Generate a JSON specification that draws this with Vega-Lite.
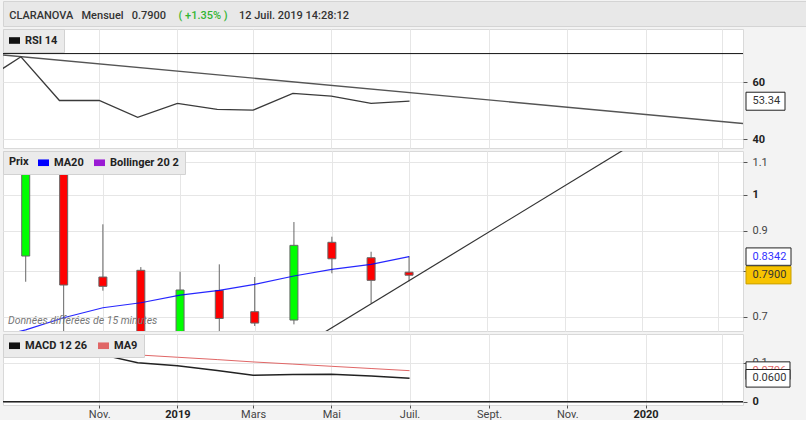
{
  "$schema": "https://vega.github.io/schema/vega-lite/v6.json",
  "background": "#f3f3f3",
  "padding": {"left": 1, "top": 0, "right": 0, "bottom": 0},
  "bounds": "flush",
  "spacing": 3,
  "datasets": {
    "rsi": [
      {"date": "2018-08-01", "v": 59.9, "serie": "RSI 14"},
      {"date": "2018-09-01", "v": 68.9, "serie": "RSI 14"},
      {"date": "2018-10-01", "v": 53.6, "serie": "RSI 14"},
      {"date": "2018-11-01", "v": 53.6, "serie": "RSI 14"},
      {"date": "2018-12-01", "v": 47.7, "serie": "RSI 14"},
      {"date": "2019-01-01", "v": 52.6, "serie": "RSI 14"},
      {"date": "2019-02-01", "v": 50.5, "serie": "RSI 14"},
      {"date": "2019-03-01", "v": 50.2, "serie": "RSI 14"},
      {"date": "2019-04-01", "v": 56.1, "serie": "RSI 14"},
      {"date": "2019-05-01", "v": 55.1, "serie": "RSI 14"},
      {"date": "2019-06-01", "v": 52.6, "serie": "RSI 14"},
      {"date": "2019-07-01", "v": 53.34, "serie": "RSI 14"}
    ],
    "rsiTrend": [
      {"date": "2018-08-18", "v": 69.5},
      {"date": "2020-03-17", "v": 45.55}
    ],
    "rsiLast": [{"k": "RSI 14", "v": 53.34}],
    "prix": [
      {"date": "2018-09-01", "open": 0.8356, "high": 1.25, "low": 0.775, "close": 1.2},
      {"date": "2018-10-01", "open": 1.2, "high": 1.24, "low": 0.64, "close": 0.7676},
      {"date": "2018-11-01", "open": 0.7858, "high": 0.917, "low": 0.755, "close": 0.7647},
      {"date": "2018-12-01", "open": 0.8014, "high": 0.809, "low": 0.63, "close": 0.655},
      {"date": "2019-01-01", "open": 0.655, "high": 0.798, "low": 0.63, "close": 0.7565},
      {"date": "2019-02-01", "open": 0.7555, "high": 0.8155, "low": 0.66, "close": 0.696},
      {"date": "2019-03-01", "open": 0.7099, "high": 0.7858, "low": 0.6808, "close": 0.6867},
      {"date": "2019-04-01", "open": 0.6928, "high": 0.9231, "low": 0.6841, "close": 0.8622},
      {"date": "2019-05-01", "open": 0.8699, "high": 0.8843, "low": 0.7944, "close": 0.829},
      {"date": "2019-06-01", "open": 0.8315, "high": 0.8462, "low": 0.7276, "close": 0.7782},
      {"date": "2019-07-01", "open": 0.797, "high": 0.8356, "low": 0.776, "close": 0.79}
    ],
    "ma20": [
      {"date": "2018-08-01", "v": 0.655, "serie": "MA20"},
      {"date": "2018-09-01", "v": 0.673, "serie": "MA20"},
      {"date": "2018-10-01", "v": 0.6975, "serie": "MA20"},
      {"date": "2018-11-01", "v": 0.7182, "serie": "MA20"},
      {"date": "2018-12-01", "v": 0.7288, "serie": "MA20"},
      {"date": "2019-01-01", "v": 0.7454, "serie": "MA20"},
      {"date": "2019-02-01", "v": 0.7558, "serie": "MA20"},
      {"date": "2019-03-01", "v": 0.7692, "serie": "MA20"},
      {"date": "2019-04-01", "v": 0.7881, "serie": "MA20"},
      {"date": "2019-05-01", "v": 0.8037, "serie": "MA20"},
      {"date": "2019-06-01", "v": 0.8156, "serie": "MA20"},
      {"date": "2019-07-01", "v": 0.8342, "serie": "MA20"}
    ],
    "prixTrend": [
      {"date": "2019-04-08", "v": 0.6431},
      {"date": "2020-01-06", "v": 1.1915}
    ],
    "prixLast": [
      {"k": "MA20", "v": 0.8342},
      {"k": "Prix", "v": 0.79}
    ],
    "note": [
      {"date": "2018-08-18", "v": 0.6907, "t": "Données différées de 15 minutes"}
    ],
    "macd": [
      {"date": "2018-08-01", "v": 0.165, "serie": "MACD 12 26"},
      {"date": "2018-09-01", "v": 0.162, "serie": "MACD 12 26"},
      {"date": "2018-10-01", "v": 0.145, "serie": "MACD 12 26"},
      {"date": "2018-11-01", "v": 0.122, "serie": "MACD 12 26"},
      {"date": "2018-12-01", "v": 0.1, "serie": "MACD 12 26"},
      {"date": "2019-01-01", "v": 0.0923, "serie": "MACD 12 26"},
      {"date": "2019-02-01", "v": 0.08, "serie": "MACD 12 26"},
      {"date": "2019-03-01", "v": 0.0677, "serie": "MACD 12 26"},
      {"date": "2019-04-01", "v": 0.0697, "serie": "MACD 12 26"},
      {"date": "2019-05-01", "v": 0.0703, "serie": "MACD 12 26"},
      {"date": "2019-06-01", "v": 0.0659, "serie": "MACD 12 26"},
      {"date": "2019-07-01", "v": 0.06, "serie": "MACD 12 26"},
      {"date": "2018-08-01", "v": 0.14, "serie": "MA9"},
      {"date": "2018-09-01", "v": 0.138, "serie": "MA9"},
      {"date": "2018-10-01", "v": 0.132, "serie": "MA9"},
      {"date": "2018-11-01", "v": 0.126, "serie": "MA9"},
      {"date": "2018-12-01", "v": 0.12, "serie": "MA9"},
      {"date": "2019-01-01", "v": 0.114, "serie": "MA9"},
      {"date": "2019-02-01", "v": 0.108, "serie": "MA9"},
      {"date": "2019-03-01", "v": 0.102, "serie": "MA9"},
      {"date": "2019-04-01", "v": 0.0964, "serie": "MA9"},
      {"date": "2019-05-01", "v": 0.0908, "serie": "MA9"},
      {"date": "2019-06-01", "v": 0.0851, "serie": "MA9"},
      {"date": "2019-07-01", "v": 0.0796, "serie": "MA9"}
    ],
    "macdLast": [
      {"k": "MA9", "v": 0.0796},
      {"k": "MACD 12 26", "v": 0.06}
    ]
  },
  "vconcat": [
    {
      "width": 805,
      "height": 25,
      "view": {"fill": "#e8e8e8", "stroke": "#d4d4d4"},
      "data": {"values": [{"t": ""}]},
      "mark": {"type": "text"},
      "encoding": {"text": {"field": "t"}},
      "title": {
        "text": "CLARANOVA\u00a0\u00a0\u00a0Mensuel\u00a0\u00a0\u00a00.7900",
        "anchor": "start",
        "frame": "group",
        "offset": -20,
        "dx": 6.3,
        "fontSize": 11,
        "fontWeight": 500,
        "color": "#333333"
      }
    },
    {
      "width": 740,
      "height": 119,
      "title": {
        "text": "( +1.35% )",
        "anchor": "start",
        "frame": "group",
        "offset": 8,
        "dx": 175.5,
        "fontSize": 11,
        "fontWeight": 500,
        "color": "#33b533"
      },
      "layer": [
        {
          "data": {"name": "rsi"},
          "mark": {"type": "point", "filled": true, "opacity": 0, "clip": true},
          "encoding": {
            "x": {"field": "date", "type": "temporal",
              "scale": {"type": "utc", "domain": [{"year": 2018, "month": 8, "date": 18, "utc": true}, {"year": 2020, "month": 3, "date": 17, "utc": true}]},
              "axis": {"title": null, "labels": false, "ticks": false, "domain": false, "grid": true,
                "values": [{"year": 2018, "month": 11, "date": 1, "utc": true}, {"year": 2019, "month": 1, "date": 1, "utc": true}, {"year": 2019, "month": 3, "date": 1, "utc": true}, {"year": 2019, "month": 5, "date": 1, "utc": true}, {"year": 2019, "month": 7, "date": 1, "utc": true}, {"year": 2019, "month": 9, "date": 1, "utc": true}, {"year": 2019, "month": 11, "date": 1, "utc": true}, {"year": 2020, "month": 1, "date": 1, "utc": true}, {"year": 2020, "month": 3, "date": 1, "utc": true}]}},
            "y": {"field": "v", "type": "quantitative", "scale": {"domain": [36.98, 78.6], "zero": false, "nice": false},
              "axis": {"orient": "right", "title": null, "values": [40, 60], "grid": true, "tickSize": 4, "labelPadding": 5,
                "labelFontWeight": {"condition": {"test": "datum.value % 1 == 0", "value": "bold"}, "value": "normal"},
                "labelColor": "#222222"}},
            "color": {"field": "serie", "type": "nominal", "scale": {"domain": ["RSI 14"], "range": ["#111111"]},
              "legend": {"title": null, "symbolType": "M-1,-0.6H1V0.6H-1Z"}}
          }
        },
        {
          "data": {"values": [{"v": 70}]},
          "mark": {"type": "rule", "color": "#111111", "strokeWidth": 1},
          "encoding": {
            "y": {"field": "v", "type": "quantitative", "scale": {"domain": [36.98, 78.6], "zero": false, "nice": false}}
          }
        },
        {
          "data": {"name": "rsiTrend"},
          "mark": {"type": "line", "clip": true, "color": "#555555", "strokeWidth": 1.3},
          "encoding": {
            "x": {"field": "date", "type": "temporal",
              "scale": {"type": "utc", "domain": [{"year": 2018, "month": 8, "date": 18, "utc": true}, {"year": 2020, "month": 3, "date": 17, "utc": true}]}},
            "y": {"field": "v", "type": "quantitative", "scale": {"domain": [36.98, 78.6], "zero": false, "nice": false}}
          }
        },
        {
          "data": {"name": "rsi"},
          "mark": {"type": "line", "clip": true, "strokeWidth": 1.3, "color": "#3a3a3a"},
          "encoding": {
            "x": {"field": "date", "type": "temporal",
              "scale": {"type": "utc", "domain": [{"year": 2018, "month": 8, "date": 18, "utc": true}, {"year": 2020, "month": 3, "date": 17, "utc": true}]}},
            "y": {"field": "v", "type": "quantitative", "scale": {"domain": [36.98, 78.6], "zero": false, "nice": false}}
          }
        },
        {
          "data": {"name": "rsiLast"},
          "mark": {"type": "point", "x": "width", "shape": "M3,-9H42V9H3Z", "size": 4, "filled": true, "opacity": 1, "fill": "#ffffff", "stroke": "#222222", "strokeWidth": 1},
          "encoding": {
            "y": {"field": "v", "type": "quantitative", "scale": {"domain": [36.98, 78.6], "zero": false, "nice": false}}
          }
        },
        {
          "data": {"name": "rsiLast"},
          "mark": {"type": "text", "x": "width", "dx": 9.5, "align": "left", "baseline": "middle", "fontSize": 11, "color": "#333333"},
          "encoding": {
            "y": {"field": "v", "type": "quantitative", "scale": {"domain": [36.98, 78.6], "zero": false, "nice": false}},
            "text": {"field": "v", "type": "quantitative", "format": ".2f"}
          }
        }
      ]
    },
    {
      "width": 740,
      "height": 180,
      "title": {
        "text": "12 Juil. 2019 14:28:12",
        "anchor": "start",
        "frame": "group",
        "offset": 130,
        "dx": 236,
        "fontSize": 11,
        "fontWeight": 500,
        "color": "#333333"
      },
      "layer": [
        {
          "data": {"name": "ma20"},
          "mark": {"type": "point", "filled": true, "opacity": 0, "clip": true},
          "encoding": {
            "x": {"field": "date", "type": "temporal",
              "scale": {"type": "utc", "domain": [{"year": 2018, "month": 8, "date": 18, "utc": true}, {"year": 2020, "month": 3, "date": 17, "utc": true}]},
              "axis": {"title": null, "labels": false, "ticks": false, "domain": false, "grid": true,
                "values": [{"year": 2018, "month": 11, "date": 1, "utc": true}, {"year": 2019, "month": 1, "date": 1, "utc": true}, {"year": 2019, "month": 3, "date": 1, "utc": true}, {"year": 2019, "month": 5, "date": 1, "utc": true}, {"year": 2019, "month": 7, "date": 1, "utc": true}, {"year": 2019, "month": 9, "date": 1, "utc": true}, {"year": 2019, "month": 11, "date": 1, "utc": true}, {"year": 2020, "month": 1, "date": 1, "utc": true}, {"year": 2020, "month": 3, "date": 1, "utc": true}]}},
            "y": {"field": "v", "type": "quantitative", "scale": {"type": "log", "domain": [0.6709, 1.1366], "zero": false, "nice": false},
              "axis": {"orient": "right", "title": null, "values": [0.7, 0.8, 0.9, 1, 1.1], "grid": true, "tickSize": 4, "labelPadding": 5,
                "labelExpr": "datum.value > 0.79 && datum.value < 0.81 ? '' : format(datum.value, '.1~f')",
                "labelFontWeight": {"condition": {"test": "datum.value % 1 == 0", "value": "bold"}, "value": "normal"},
                "labelColor": {"condition": {"test": "datum.value % 1 == 0", "value": "#222222"}, "value": "#444444"}}},
            "color": {"field": "serie", "type": "nominal", "scale": {"domain": ["MA20", "Bollinger 20 2"], "range": ["#0000ff", "#9a1ad4"]},
              "legend": {"title": "Prix", "titleOrient": "left", "titlePadding": 9, "symbolType": "M-1,-0.6H1V0.6H-1Z"}}
          }
        },
        {
          "data": {"name": "prix"},
          "mark": {"type": "rule", "clip": true, "color": "#666666", "strokeWidth": 1},
          "encoding": {
            "x": {"field": "date", "type": "temporal",
              "scale": {"type": "utc", "domain": [{"year": 2018, "month": 8, "date": 18, "utc": true}, {"year": 2020, "month": 3, "date": 17, "utc": true}]}},
            "y": {"field": "low", "type": "quantitative", "scale": {"type": "log", "domain": [0.6709, 1.1366], "zero": false, "nice": false}},
            "y2": {"field": "high"}
          }
        },
        {
          "data": {"name": "prix"},
          "mark": {"type": "bar", "clip": true, "width": 8, "stroke": "#666666", "strokeWidth": 1},
          "encoding": {
            "x": {"field": "date", "type": "temporal",
              "scale": {"type": "utc", "domain": [{"year": 2018, "month": 8, "date": 18, "utc": true}, {"year": 2020, "month": 3, "date": 17, "utc": true}]}},
            "y": {"field": "open", "type": "quantitative", "scale": {"type": "log", "domain": [0.6709, 1.1366], "zero": false, "nice": false}},
            "y2": {"field": "close"},
            "fill": {"condition": {"test": "datum.close >= datum.open", "value": "#00ff00"}, "value": "#ff0000"}
          }
        },
        {
          "data": {"name": "prixTrend"},
          "mark": {"type": "line", "clip": true, "color": "#333333", "strokeWidth": 1.2},
          "encoding": {
            "x": {"field": "date", "type": "temporal",
              "scale": {"type": "utc", "domain": [{"year": 2018, "month": 8, "date": 18, "utc": true}, {"year": 2020, "month": 3, "date": 17, "utc": true}]}},
            "y": {"field": "v", "type": "quantitative", "scale": {"type": "log", "domain": [0.6709, 1.1366], "zero": false, "nice": false}}
          }
        },
        {
          "data": {"name": "ma20"},
          "mark": {"type": "line", "clip": true, "strokeWidth": 1.2, "opacity": 0.85, "color": "#0000ff"},
          "encoding": {
            "x": {"field": "date", "type": "temporal",
              "scale": {"type": "utc", "domain": [{"year": 2018, "month": 8, "date": 18, "utc": true}, {"year": 2020, "month": 3, "date": 17, "utc": true}]}},
            "y": {"field": "v", "type": "quantitative", "scale": {"type": "log", "domain": [0.6709, 1.1366], "zero": false, "nice": false}}
          }
        },
        {
          "data": {"name": "note"},
          "mark": {"type": "text", "align": "left", "baseline": "middle", "dx": 0, "fontSize": 10.5, "fontStyle": "italic", "color": "#777777"},
          "encoding": {
            "x": {"field": "date", "type": "temporal",
              "scale": {"type": "utc", "domain": [{"year": 2018, "month": 8, "date": 18, "utc": true}, {"year": 2020, "month": 3, "date": 17, "utc": true}]}},
            "y": {"field": "v", "type": "quantitative", "scale": {"type": "log", "domain": [0.6709, 1.1366], "zero": false, "nice": false}},
            "text": {"field": "t"}
          }
        },
        {
          "data": {"name": "prixLast"},
          "mark": {"type": "point", "x": "width", "shape": "M3,-8.7H48V8.7H3Z", "size": 4, "filled": true, "opacity": 1, "strokeWidth": 1},
          "encoding": {
            "y": {"field": "v", "type": "quantitative", "scale": {"type": "log", "domain": [0.6709, 1.1366], "zero": false, "nice": false}},
            "fill": {"condition": {"test": "datum.k == 'Prix'", "value": "#f7c300"}, "value": "#ffffff"},
            "stroke": {"condition": {"test": "datum.k == 'Prix'", "value": "#c9a000"}, "value": "#222222"}
          }
        },
        {
          "data": {"name": "prixLast"},
          "mark": {"type": "text", "x": "width", "dx": 9.5, "align": "left", "baseline": "middle", "fontSize": 11},
          "encoding": {
            "y": {"field": "v", "type": "quantitative", "scale": {"type": "log", "domain": [0.6709, 1.1366], "zero": false, "nice": false}},
            "text": {"field": "v", "type": "quantitative", "format": ".4f"},
            "color": {"condition": {"test": "datum.k == 'MA20'", "value": "#3333ff"}, "value": "#333333"}
          }
        }
      ]
    },
    {
      "width": 740,
      "height": 71,
      "layer": [
        {
          "data": {"name": "macd"},
          "mark": {"type": "point", "filled": true, "opacity": 0, "clip": true},
          "encoding": {
            "x": {"field": "date", "type": "temporal",
              "scale": {"type": "utc", "domain": [{"year": 2018, "month": 8, "date": 18, "utc": true}, {"year": 2020, "month": 3, "date": 17, "utc": true}]},
              "axis": {"title": null, "domain": false, "grid": true, "ticks": true, "tickSize": 3, "labelPadding": 0,
                "values": [{"year": 2018, "month": 11, "date": 1, "utc": true}, {"year": 2019, "month": 1, "date": 1, "utc": true}, {"year": 2019, "month": 3, "date": 1, "utc": true}, {"year": 2019, "month": 5, "date": 1, "utc": true}, {"year": 2019, "month": 7, "date": 1, "utc": true}, {"year": 2019, "month": 9, "date": 1, "utc": true}, {"year": 2019, "month": 11, "date": 1, "utc": true}, {"year": 2020, "month": 1, "date": 1, "utc": true}, {"year": 2020, "month": 3, "date": 1, "utc": true}],
                "labelExpr": "(utcyear(datum.value) == 2020 && utcmonth(datum.value) == 2) ? '' : (utcmonth(datum.value) == 0 ? '' + utcyear(datum.value) : ['Janv.','Févr.','Mars','Avr.','Mai','Juin','Juil.','Août','Sept.','Oct.','Nov.','Déc.'][utcmonth(datum.value)])",
                "labelFontWeight": {"condition": {"test": "utcmonth(datum.value) == 0", "value": "bold"}, "value": "normal"},
                "labelColor": {"condition": {"test": "utcmonth(datum.value) == 0", "value": "#222222"}, "value": "#444444"},
                "tickOpacity": {"condition": {"test": "utcyear(datum.value) == 2020 && utcmonth(datum.value) == 2", "value": 0}, "value": 1}}},
            "y": {"field": "v", "type": "quantitative", "scale": {"domain": [-0.00846, 0.1736], "zero": false, "nice": false},
              "axis": {"orient": "right", "title": null, "values": [0, 0.1], "format": ".1~f", "grid": true, "tickSize": 4, "labelPadding": 5,
                "labelFontWeight": {"condition": {"test": "datum.value % 1 == 0", "value": "bold"}, "value": "normal"},
                "labelColor": {"condition": {"test": "datum.value % 1 == 0", "value": "#222222"}, "value": "#444444"}}},
            "color": {"field": "serie", "type": "nominal", "scale": {"domain": ["MACD 12 26", "MA9"], "range": ["#111111", "#e06666"]},
              "legend": {"title": null, "symbolType": "M-1,-0.6H1V0.6H-1Z"}}
          }
        },
        {
          "data": {"name": "macd"},
          "mark": {"type": "line", "clip": true},
          "encoding": {
            "x": {"field": "date", "type": "temporal",
              "scale": {"type": "utc", "domain": [{"year": 2018, "month": 8, "date": 18, "utc": true}, {"year": 2020, "month": 3, "date": 17, "utc": true}]}},
            "y": {"field": "v", "type": "quantitative", "scale": {"domain": [-0.00846, 0.1736], "zero": false, "nice": false}},
            "detail": {"field": "serie"},
            "stroke": {"condition": {"test": "datum.serie == 'MA9'", "value": "#e06666"}, "value": "#222222"},
            "strokeWidth": {"condition": {"test": "datum.serie == 'MA9'", "value": 1}, "value": 1.5}
          }
        },
        {
          "data": {"values": [{"v": 0}]},
          "mark": {"type": "rule", "color": "#222222", "strokeWidth": 1.5},
          "encoding": {
            "y": {"field": "v", "type": "quantitative", "scale": {"domain": [-0.00846, 0.1736], "zero": false, "nice": false}}
          }
        },
        {
          "data": {"name": "macdLast"},
          "transform": [{"filter": "datum.k == 'MA9'"}],
          "mark": {"type": "point", "x": "width", "shape": "M3,-8.8H47V8.8H3Z", "size": 4, "filled": true, "opacity": 1, "fill": "#ffffff", "stroke": "#222222", "strokeWidth": 1},
          "encoding": {
            "y": {"field": "v", "type": "quantitative", "scale": {"domain": [-0.00846, 0.1736], "zero": false, "nice": false}}
          }
        },
        {
          "data": {"name": "macdLast"},
          "transform": [{"filter": "datum.k == 'MA9'"}],
          "mark": {"type": "text", "x": "width", "dx": 9.5, "align": "left", "baseline": "middle", "fontSize": 11, "color": "#e06666"},
          "encoding": {
            "y": {"field": "v", "type": "quantitative", "scale": {"domain": [-0.00846, 0.1736], "zero": false, "nice": false}},
            "text": {"field": "v", "type": "quantitative", "format": ".4f"}
          }
        },
        {
          "data": {"name": "macdLast"},
          "transform": [{"filter": "datum.k == 'MACD 12 26'"}],
          "mark": {"type": "point", "x": "width", "shape": "M3,-8.8H47V8.8H3Z", "size": 4, "filled": true, "opacity": 1, "fill": "#ffffff", "stroke": "#222222", "strokeWidth": 1},
          "encoding": {
            "y": {"field": "v", "type": "quantitative", "scale": {"domain": [-0.00846, 0.1736], "zero": false, "nice": false}}
          }
        },
        {
          "data": {"name": "macdLast"},
          "transform": [{"filter": "datum.k == 'MACD 12 26'"}],
          "mark": {"type": "text", "x": "width", "dx": 9.5, "align": "left", "baseline": "middle", "fontSize": 11, "color": "#333333"},
          "encoding": {
            "y": {"field": "v", "type": "quantitative", "scale": {"domain": [-0.00846, 0.1736], "zero": false, "nice": false}},
            "text": {"field": "v", "type": "quantitative", "format": ".4f"}
          }
        }
      ]
    }
  ],
  "resolve": {"scale": {"color": "independent"}, "legend": {"color": "independent"}},
  "config": {
    "font": "Roboto",
    "view": {"fill": "#ffffff", "stroke": "#d9d9d9"},
    "axis": {"labelFont": "Roboto", "labelFontSize": 11, "gridColor": "#e6e6e6", "gridWidth": 1, "tickColor": "#555555", "domain": false},
    "legend": {
      "orient": "top-left",
      "direction": "horizontal",
      "fillColor": "#ebebeb",
      "strokeColor": "#d2d2d2",
      "padding": 6,
      "offset": 0,
      "symbolSize": 121,
      "symbolStrokeWidth": 0,
      "symbolOpacity": 1,
      "labelFont": "Roboto",
      "labelFontSize": 11,
      "labelFontWeight": "bold",
      "labelColor": "#222222",
      "labelOffset": 5,
      "columnPadding": 10,
      "titleFont": "Roboto",
      "titleFontSize": 11,
      "titleFontWeight": "bold",
      "titleColor": "#222222",
      "zindex": 2
    },
    "title": {"font": "Roboto"},
    "text": {"font": "Roboto"}
  }
}
